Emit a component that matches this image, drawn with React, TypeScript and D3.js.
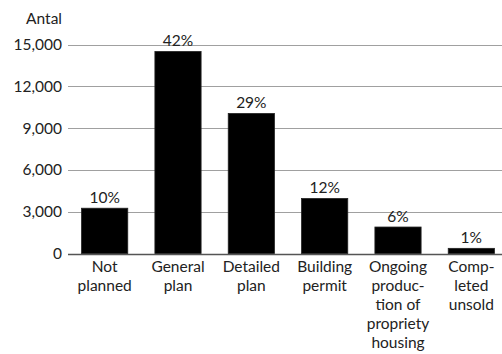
import React from "react";
import * as d3 from "d3";

const categories: string[][] = [
  ["Not", "planned"],
  ["General", "plan"],
  ["Detailed", "plan"],
  ["Building", "permit"],
  ["Ongoing", "produc-", "tion of", "propriety", "housing"],
  ["Comp-", "leted", "unsold"],
];
const values: number[] = [3250, 14500, 10050, 3950, 1900, 370];
const percentLabels: string[] = ["10%", "42%", "29%", "12%", "6%", "1%"];
const yTicks: number[] = [0, 3000, 6000, 9000, 12000, 15000];
const yTitle = "Antal";

export default function App() {
  const W = 502;
  const H = 354;
  const font = "Lato, 'Open Sans', sans-serif";
  const fs = 15.5;
  const y = d3.scaleLinear().domain([0, 15000]).range([253.5, 44.5]);
  const x = d3
    .scaleBand<number>()
    .domain(d3.range(values.length))
    .range([68, 508])
    .paddingInner(0.37)
    .paddingOuter(0.185);
  const fmt = d3.format(",");
  const lineH = 18.9;
  return (
    <svg
      width={W}
      height={H}
      style={{ position: "absolute", left: 0, top: 0, background: "#fff" }}
      fontFamily={font}
    >
      {yTicks.map((t) => (
        <g key={t}>
          <line
            x1={68}
            x2={W}
            y1={Math.round(y(t)) + 0.5}
            y2={Math.round(y(t)) + 0.5}
            stroke={t === 0 ? "#555" : "#a0a0a0"}
            strokeWidth={t === 0 ? 1.3 : 1}
          />
          <text
            x={62}
            y={y(t) + 5.5}
            textAnchor="end"
            fontSize={fs}
            fill="#222"
          >
            {fmt(t)}
          </text>
        </g>
      ))}
      <text x={62} y={24} textAnchor="end" fontSize={fs} fill="#222">
        {yTitle}
      </text>
      {values.map((v, i) => {
        const bx = x(i)!;
        const bw = x.bandwidth();
        const cx = bx + bw / 2;
        return (
          <g key={i}>
            <rect
              x={bx}
              y={y(v)}
              width={bw}
              height={y(0) - y(v)}
              fill="#000"
              stroke="#222"
              strokeWidth={0.8}
            />
            <text
              x={cx}
              y={y(v) - 5.5}
              textAnchor="middle"
              fontSize={fs}
              fill="#222"
            >
              {percentLabels[i]}
            </text>
            {categories[i].map((line, j) => (
              <text
                key={j}
                x={cx}
                y={272 + j * lineH}
                textAnchor="middle"
                fontSize={fs}
                fill="#222"
              >
                {line}
              </text>
            ))}
          </g>
        );
      })}
    </svg>
  );
}
